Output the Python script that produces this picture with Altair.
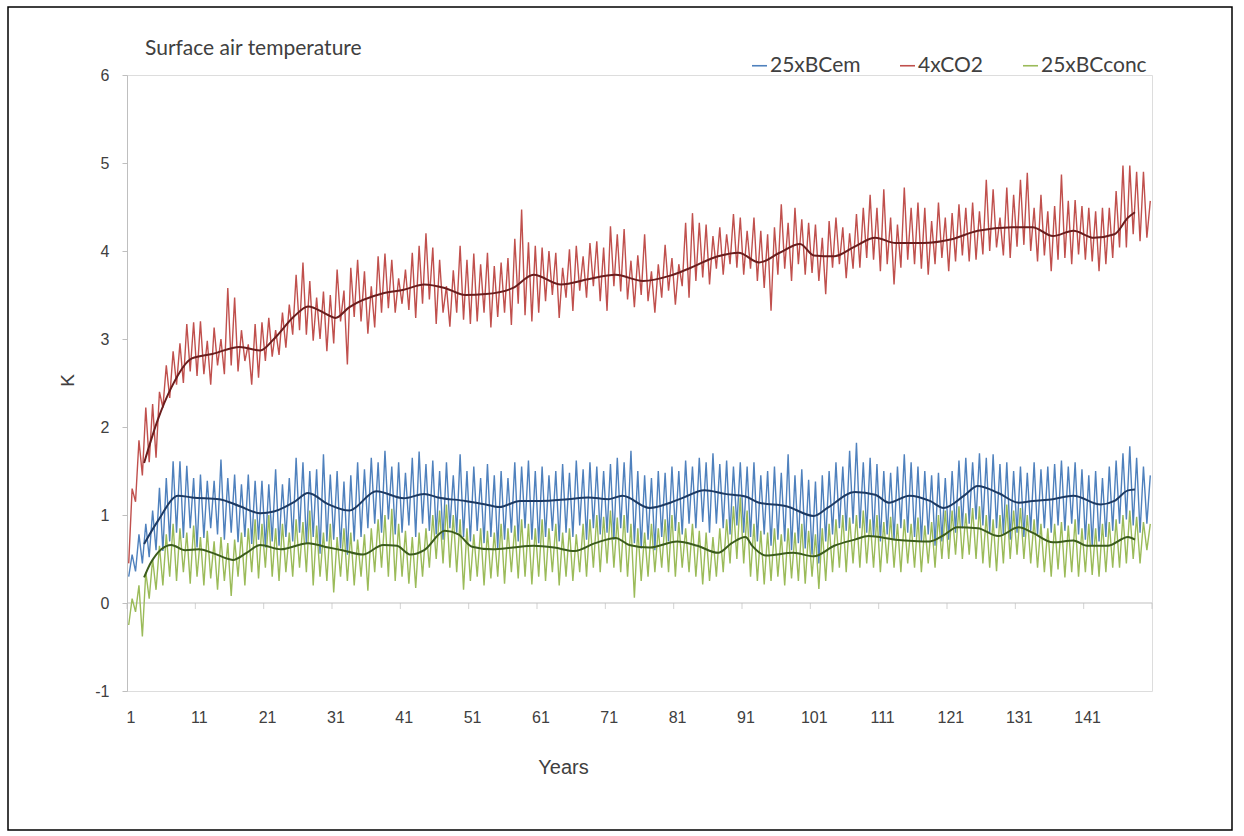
import altair as alt
import pandas as pd

# ---------------- data ----------------
SERIES = ["25xBCem", "4xCO2", "25xBCconc"]
COLORS = ["#4f81bd", "#c0504d", "#9bbb59"]
TITLE = "Surface air temperature"

years = list(range(1, 151))
x_tick_labels = [1, 11, 21, 31, 41, 51, 61, 71, 81, 91, 101, 111, 121, 131, 141]
y_tick_labels = [-1, 0, 1, 2, 3, 4, 5, 6]

# 4xCO2: low / high value within each year
red_lo = [0.45, 1.15, 1.45, 1.6, 1.65, 2.22, 2.33, 2.48, 2.5, 2.63,
          2.58, 2.6, 2.48, 2.7, 2.6, 2.7, 2.63, 2.75, 2.48, 2.56,
          2.75, 2.8, 2.82, 2.9, 3.05, 3.1, 3.05, 2.98, 3.0, 2.86,
          2.95, 3.2, 2.71, 3.25, 3.2, 3.06, 3.13, 3.3, 3.35, 3.3,
          3.4, 3.33, 3.24, 3.4, 3.45, 3.17, 3.3, 3.14, 3.3, 3.22,
          3.17, 3.2, 3.3, 3.13, 3.25, 3.3, 3.16, 3.4, 3.27, 3.2,
          3.3, 3.43, 3.5, 3.24, 3.47, 3.32, 3.55, 3.47, 3.6, 3.43,
          3.32, 3.6, 3.54, 3.45, 3.36, 3.5, 3.43, 3.30, 3.47, 3.55,
          3.39, 3.6, 3.47, 3.66, 3.7, 3.62, 3.8, 3.73, 3.85, 3.81,
          3.73, 3.8, 3.66, 3.58, 3.32, 3.73, 3.8, 3.66, 3.85, 3.73,
          3.75, 3.66, 3.51, 3.81, 3.85, 3.69, 3.8, 3.81, 3.92, 3.9,
          3.77, 3.85, 3.62, 3.81, 3.9, 3.85, 3.8, 3.73, 3.85, 3.92,
          3.77, 3.88, 3.95, 3.88, 3.9, 3.96, 4.0, 4.04, 3.95, 3.92,
          4.05, 4.07, 4.0, 3.88, 3.95, 3.77, 3.9, 3.92, 3.85, 3.96,
          3.9, 3.88, 3.77, 3.85, 3.92, 4.04, 4.04, 4.19, 4.11, 4.15]
red_hi = [1.3, 1.85, 2.22, 2.26, 2.4, 2.7, 2.86, 2.95, 3.17, 3.19,
          3.2, 2.98, 3.13, 3.0, 3.58, 3.47, 3.1, 2.94, 3.17, 3.19,
          3.24, 3.1, 3.3, 3.39, 3.73, 3.87, 3.66, 3.47, 3.54, 3.5,
          3.79, 3.55, 3.81, 3.9, 3.77, 3.6, 3.94, 3.97, 3.9, 3.69,
          3.79, 3.98, 4.06, 4.2, 4.04, 3.9, 3.6, 3.78, 4.06, 3.9,
          3.97, 3.85, 3.98, 3.83, 3.87, 3.92, 4.14, 4.47, 4.1, 4.06,
          4.04, 4.0, 3.98, 3.81, 4.02, 4.06, 3.94, 4.09, 4.11, 4.04,
          4.28, 4.19, 4.25, 3.89, 3.95, 4.19, 3.77, 3.85, 4.07, 3.92,
          3.85, 4.32, 4.43, 4.32, 4.3, 4.17, 4.27, 4.19, 4.42, 4.38,
          4.23, 4.38, 4.23, 4.19, 4.27, 4.53, 4.32, 4.49, 4.36, 4.32,
          4.3, 4.15, 4.34, 4.38, 4.27, 4.2, 4.42, 4.49, 4.64, 4.49,
          4.7, 4.38, 4.3, 4.72, 4.49, 4.55, 4.49, 4.34, 4.55, 4.38,
          4.43, 4.53, 4.49, 4.55, 4.45, 4.81, 4.7, 4.38, 4.72, 4.64,
          4.81, 4.89, 4.49, 4.64, 4.45, 4.51, 4.87, 4.57, 4.58, 4.51,
          4.49, 4.45, 4.49, 4.49, 4.68, 4.97, 4.97, 4.9, 4.9, 4.57]

# 25xBCem
blue_lo = [0.3, 0.36, 0.45, 0.52, 0.6, 0.59, 0.7, 0.8, 0.74, 0.85,
           0.63, 0.74, 0.85, 0.78, 0.72, 0.8, 0.69, 0.75, 0.67, 0.72,
           0.63, 0.7, 0.65, 0.75, 0.7, 0.8, 0.67, 0.75, 0.56, 0.7,
           0.72, 0.62, 0.55, 0.7, 0.75, 0.85, 0.9, 0.8, 0.95, 0.78,
           0.8, 0.88, 0.75, 0.9, 0.82, 0.78, 0.72, 0.85, 0.8, 0.75,
           0.7, 0.82, 0.68, 0.75, 0.62, 0.72, 0.8, 0.7, 0.85, 0.72,
           0.68, 0.75, 0.82, 0.7, 0.8, 0.75, 0.88, 0.72, 0.85, 0.78,
           0.8, 0.72, 0.85, 0.8, 0.68, 0.62, 0.72, 0.6, 0.75, 0.7,
           0.82, 0.78, 0.9, 0.85, 0.92, 0.8, 0.9, 0.85, 0.78, 0.88,
           0.8, 0.75, 0.7, 0.78, 0.65, 0.72, 0.7, 0.6, 0.68, 0.62,
           0.55, 0.45, 0.7, 0.78, 0.85, 0.82, 0.9, 0.85, 0.8, 0.75,
           0.7, 0.78, 0.72, 0.85, 0.8, 0.75, 0.7, 0.78, 0.65, 0.7,
           0.72, 0.8, 0.85, 0.9, 0.95, 0.88, 0.8, 0.85, 0.78, 0.72,
           0.8, 0.75, 0.82, 0.78, 0.85, 0.8, 0.88, 0.82, 0.9, 0.78,
           0.72, 0.65, 0.7, 0.75, 0.82, 0.9, 0.95, 0.88, 0.8, 0.9]
blue_hi = [0.55, 0.78, 0.9, 1.05, 1.31, 1.42, 1.61, 1.61, 1.56, 1.42,
           1.46, 1.39, 1.39, 1.63, 1.42, 1.46, 1.35, 1.46, 1.39, 1.39,
           1.35, 1.52, 1.35, 1.42, 1.65, 1.6, 1.5, 1.52, 1.69, 1.46,
           1.5, 1.38, 1.45, 1.6, 1.52, 1.65, 1.6, 1.73, 1.55, 1.6,
           1.48, 1.65, 1.72, 1.58, 1.62, 1.5, 1.6, 1.45, 1.69, 1.5,
           1.55, 1.42, 1.58, 1.45, 1.5, 1.42, 1.6, 1.55, 1.62, 1.5,
           1.55, 1.45, 1.5, 1.58, 1.48, 1.62, 1.52, 1.6, 1.55, 1.5,
           1.58, 1.65, 1.6, 1.73, 1.5, 1.45, 1.42, 1.5, 1.48, 1.55,
           1.5, 1.62, 1.55, 1.65, 1.6, 1.7, 1.58, 1.62, 1.55, 1.6,
           1.55, 1.6, 1.45, 1.5, 1.55, 1.48, 1.69, 1.45, 1.52, 1.4,
           1.38, 1.45, 1.5, 1.6, 1.55, 1.73, 1.82, 1.6, 1.65, 1.58,
           1.5, 1.48, 1.55, 1.69, 1.6, 1.55, 1.5, 1.45, 1.48, 1.42,
           1.5, 1.62, 1.65, 1.6, 1.7, 1.65, 1.69, 1.58, 1.6, 1.5,
           1.55, 1.48, 1.6, 1.52, 1.55, 1.58, 1.62, 1.55, 1.6, 1.52,
           1.45, 1.5, 1.42, 1.55, 1.62, 1.7, 1.78, 1.65, 1.55, 1.45]

# 25xBCconc
green_lo = [-0.25, -0.1, -0.38, 0.05, 0.15, 0.2, 0.3, 0.25, 0.35, 0.22,
            0.3, 0.2, 0.28, 0.15, 0.25, 0.08, 0.3, 0.2, 0.35, 0.28,
            0.4, 0.3, 0.25, 0.35, 0.3, 0.4, 0.35, 0.2, 0.3, 0.25,
            0.12, 0.3, 0.25, 0.2, 0.3, 0.14, 0.35, 0.4, 0.3, 0.25,
            0.3, 0.22, 0.17, 0.3, 0.4, 0.5, 0.45, 0.4, 0.35, 0.15,
            0.25, 0.3, 0.2, 0.28, 0.3, 0.22, 0.35, 0.28, 0.3, 0.21,
            0.3, 0.25, 0.35, 0.2, 0.3, 0.25, 0.35, 0.3, 0.4, 0.35,
            0.45, 0.4, 0.35, 0.3, 0.06, 0.25, 0.3, 0.35, 0.4, 0.35,
            0.3, 0.4, 0.35, 0.3, 0.21, 0.25, 0.3, 0.35, 0.45, 0.5,
            0.45, 0.3, 0.25, 0.21, 0.25, 0.3, 0.2, 0.28, 0.25, 0.22,
            0.3, 0.16, 0.25, 0.35, 0.4, 0.35, 0.45, 0.4, 0.45, 0.4,
            0.35, 0.45, 0.4, 0.35, 0.45, 0.4, 0.35, 0.45, 0.4, 0.5,
            0.5, 0.55, 0.5, 0.55, 0.5, 0.45, 0.4, 0.36, 0.45, 0.5,
            0.55, 0.5, 0.45, 0.4, 0.35, 0.3, 0.38, 0.29, 0.35, 0.3,
            0.35, 0.32, 0.3, 0.35, 0.4, 0.4, 0.45, 0.5, 0.45, 0.6]
green_hi = [0.05, 0.2, 0.35, 0.5, 0.65, 0.78, 0.9, 0.85, 0.8, 0.88,
            0.75, 0.82, 0.7, 0.75, 0.68, 0.72, 0.8, 0.85, 0.95, 0.9,
            1.0, 0.85, 0.9, 0.8, 0.95, 0.92, 1.05, 0.88, 0.8, 0.9,
            0.75, 0.85, 0.8, 0.72, 0.78, 0.85, 0.95, 1.0, 1.07, 0.9,
            0.82, 0.75, 0.8, 0.85, 1.0, 1.05, 1.12, 1.0, 0.95, 0.85,
            0.78, 0.85, 0.82, 0.8, 0.9, 0.85, 0.88, 0.95, 0.9, 0.85,
            0.95, 0.85, 0.9, 0.8, 0.85, 0.78, 0.9, 0.95, 1.0, 0.98,
            1.05, 0.97, 1.0, 0.9, 0.85, 0.8, 0.9, 0.85, 0.95, 1.0,
            0.92, 0.85, 0.9, 0.82, 0.8, 0.75, 0.85, 0.95, 1.1, 1.2,
            1.05, 0.9, 0.82, 0.8, 0.85, 0.78, 0.85, 0.8, 0.9, 0.82,
            0.78, 0.85, 0.9, 0.95, 1.0, 0.97, 1.0, 1.05, 0.95, 1.0,
            0.92, 0.98, 0.9, 0.95, 0.9, 0.97, 0.88, 0.92, 1.0, 1.05,
            1.05, 1.1, 1.02, 1.08, 1.1, 1.0, 0.95, 1.0, 1.12, 1.05,
            1.08, 1.0, 0.95, 0.9, 0.85, 0.9, 0.92, 0.88, 0.95, 0.85,
            0.9, 0.85, 0.9, 0.92, 0.95, 1.0, 1.05, 0.98, 0.92, 0.9]

# smoothed curves (key points)
red_s_years = [3, 5, 7, 10, 13, 17, 20, 22, 25, 27, 30, 31, 33, 38, 41, 44, 47, 50, 53, 57,
               60, 64, 68, 72, 76, 80, 83, 87, 90, 93, 96, 99, 101, 104, 107, 110, 113, 117,
               121, 125, 130, 133, 136, 139, 142, 145, 147, 148]
red_s_vals = [1.59, 2.08, 2.45, 2.78, 2.83, 2.91, 2.87, 3.0, 3.26, 3.37, 3.27, 3.24, 3.36, 3.52,
              3.56, 3.62, 3.58, 3.50, 3.51, 3.58, 3.73, 3.62, 3.68, 3.73, 3.66, 3.72, 3.81, 3.94,
              3.98, 3.87, 3.98, 4.08, 3.95, 3.94, 4.05, 4.15, 4.09, 4.09, 4.13, 4.23, 4.27, 4.27,
              4.17, 4.23, 4.15, 4.19, 4.38, 4.44]
blue_s_years = [3, 5, 8, 10, 14, 17, 20, 22, 25, 27, 30, 33, 37, 41, 44, 46, 50, 53, 55, 58,
                61, 65, 68, 71, 73, 77, 80, 82, 85, 88, 91, 93, 97, 101, 103, 107, 110, 112, 115,
                118, 120, 123, 125, 128, 131, 133, 136, 139, 143, 145, 147, 148]
blue_s_vals = [0.67, 0.93, 1.22, 1.2, 1.18, 1.10, 1.02, 1.04, 1.15, 1.25, 1.12, 1.05, 1.27, 1.19,
               1.24, 1.2, 1.16, 1.12, 1.09, 1.16, 1.16, 1.18, 1.2, 1.18, 1.22, 1.08, 1.14, 1.2,
               1.28, 1.24, 1.21, 1.14, 1.10, 0.99, 1.08, 1.26, 1.23, 1.14, 1.22, 1.16, 1.08, 1.22,
               1.33, 1.25, 1.14, 1.16, 1.18, 1.22, 1.12, 1.16, 1.28, 1.29]
green_s_years = [3, 4, 7, 9, 11, 13, 16, 18, 20, 23, 27, 30, 32, 35, 38, 40, 42, 44, 47, 49,
                 51, 54, 57, 60, 63, 66, 69, 72, 74, 77, 81, 84, 87, 89, 91, 92, 94, 98, 101,
                 104, 107, 109, 113, 118, 120, 122, 125, 128, 131, 133, 136, 139, 141, 144, 147, 148]
green_s_vals = [0.29, 0.46, 0.66, 0.6, 0.61, 0.57, 0.49, 0.57, 0.66, 0.61, 0.68, 0.63, 0.6, 0.55,
                0.66, 0.65, 0.55, 0.6, 0.82, 0.78, 0.64, 0.61, 0.63, 0.65, 0.63, 0.59, 0.68, 0.74,
                0.66, 0.63, 0.70, 0.65, 0.57, 0.68, 0.75, 0.65, 0.54, 0.57, 0.53, 0.65, 0.72, 0.76,
                0.72, 0.70, 0.77, 0.86, 0.85, 0.76, 0.86, 0.80, 0.69, 0.71, 0.65, 0.65, 0.75, 0.72]

# ---------------- tables ----------------
rows = []
for name, lo, hi in [("25xBCem", blue_lo, blue_hi), ("4xCO2", red_lo, red_hi),
                     ("25xBCconc", green_lo, green_hi)]:
    for yr, a, b in zip(years, lo, hi):
        rows.append({"t": yr - 0.25, "v": a, "series": name})
        rows.append({"t": yr + 0.25, "v": b, "series": name})
noisy = pd.DataFrame(rows)

smooth_tables = {
    "25xBCem": pd.DataFrame({"t": blue_s_years, "v": blue_s_vals}),
    "4xCO2": pd.DataFrame({"t": red_s_years, "v": red_s_vals}),
    "25xBCconc": pd.DataFrame({"t": green_s_years, "v": green_s_vals}),
}
SMOOTH_COLORS = {"25xBCem": "#1d3a63", "4xCO2": "#6a1d1d", "25xBCconc": "#3b5c1c"}

axis_ticks = pd.DataFrame({"t": [0.5 + 10 * k for k in range(16)], "z": [0] * 16})

W, H = 1025, 616
PAD_L, PAD_T = 127, 75

xscale = alt.Scale(domain=[0.5, 150.5], nice=False, zero=False)
yscale = alt.Scale(domain=[-1, 6], nice=False, zero=False)

AXIS_FONT = "Liberation Sans"
TXT = "#404040"

x_enc = alt.X("t:Q", scale=xscale, axis=alt.Axis(
    values=x_tick_labels, format="d", domain=False, ticks=False, grid=False,
    labelFont=AXIS_FONT, labelFontSize=16, labelColor=TXT, labelPadding=18,
    title="Years", titleFont=AXIS_FONT, titleFontSize=20, titleFontWeight="normal",
    titleColor=TXT, titleX=436, titleY=76, titleAlign="center", titleBaseline="middle"))
y_enc = alt.Y("v:Q", scale=yscale, axis=alt.Axis(
    values=y_tick_labels, labelExpr="'' + datum.value", grid=False,
    domainColor="#bfbfbf", tickColor="#bfbfbf",
    tickSize=5, labelFont=AXIS_FONT, labelFontSize=16, labelColor=TXT, labelPadding=13,
    title="K", titleFont=AXIS_FONT, titleFontSize=19, titleFontWeight="normal",
    titleColor=TXT, titleX=-60, titleY=305, titleAngle=270, titleAlign="center",
    titleBaseline="middle"))

lines = alt.Chart(noisy).mark_line(strokeWidth=1.4, strokeJoin="miter").encode(
    x=x_enc, y=y_enc,
    color=alt.Color("series:N", sort=SERIES,
                    scale=alt.Scale(domain=SERIES, range=COLORS),
                    legend=alt.Legend(orient="none", direction="horizontal",
                                      legendX=622, legendY=-20, title=None,
                                      symbolType="stroke", symbolSize=225,
                                      symbolStrokeWidth=1.6, labelFont="Lato",
                                      labelFontSize=21, labelColor=TXT, labelOffset=0,
                                      columnPadding=35, padding=0)),
)

smooth_layers = []
for name in SERIES:
    smooth_layers.append(
        alt.Chart(smooth_tables[name]).mark_line(
            color=SMOOTH_COLORS[name], strokeWidth=2, interpolate="monotone").encode(
            x=alt.X("t:Q", scale=xscale), y=alt.Y("v:Q", scale=yscale)))

zero_line = alt.Chart(pd.DataFrame({"t": [0.5], "t2": [150.5], "v": [0]})).mark_rule(
    color="#bfbfbf", strokeWidth=1).encode(
    x=alt.X("t:Q", scale=xscale), x2="t2:Q", y=alt.Y("v:Q", scale=yscale))

zero_ticks = alt.Chart(axis_ticks).mark_tick(
    color="#bfbfbf", thickness=1, size=6, orient="vertical", yOffset=3).encode(
    x=alt.X("t:Q", scale=xscale), y=alt.Y("z:Q", scale=yscale))

title_text = alt.Chart(pd.DataFrame({"label": [TITLE]})).mark_text(
    align="left", baseline="alphabetic", font="Lato", fontSize=21, color=TXT).encode(
    x=alt.value(18), y=alt.value(-20), text="label:N")

frame = alt.Chart(pd.DataFrame({"a": [0]})).mark_rect(
    fillOpacity=0, stroke="black", strokeWidth=1.5).encode(
    x=alt.value(8 - PAD_L), x2=alt.value(1232 - PAD_L),
    y=alt.value(7 - PAD_T), y2=alt.value(830 - PAD_T))

chart = alt.layer(zero_line, zero_ticks, lines, *smooth_layers, title_text, frame).properties(
    width=W, height=H,
    padding={"left": PAD_L, "top": PAD_T, "right": 1244 - PAD_L - W, "bottom": 836 - PAD_T - H},
    autosize=alt.AutoSizeParams(type="none"),
).configure_view(stroke=None).configure(background="white")

chart.save("out.html", embed_options={"renderer": "svg", "actions": False})
